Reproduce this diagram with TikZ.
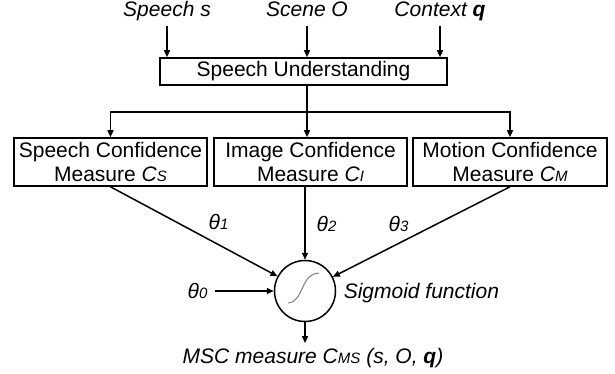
\documentclass[tikz,border=0pt]{standalone}
\usepackage{fontspec}
\setmainfont{Liberation Sans}
\usetikzlibrary{arrows.meta,calc}

% smaller letters written after a symbol (C_S, theta_1, ...)
\newcommand\lowsub[1]{{\fontsize{7.5}{9}\selectfont #1}}

\begin{document}
\begin{tikzpicture}[
    x=0.5pt, y=-0.5pt,
    font=\fontsize{10.5}{12}\selectfont,
    line width=0.75pt,
    arr/.style={-{Triangle[length=3.5pt,width=3pt]}},
    inlabel/.style={font=\fontsize{10.5}{12}\selectfont\itshape, anchor=base,
                    text depth=2.2pt, inner sep=1.8pt},
    unitbox/.style={draw, line width=0.8pt, inner sep=0pt},
    measurebox/.style={draw, line width=0.8pt, align=center,
                       minimum width=96.5pt, minimum height=24pt, inner sep=0pt},
    weight/.style={font=\fontsize{10.5}{12}\selectfont\itshape},
  ]
  \useasboundingbox (0,0) rectangle (615,374);

  % inputs
  \node[inlabel] (sp)  at (167,17) {Speech s};
  \node[inlabel] (sc)  at (307,17) {Scene O};
  \node[inlabel] (ctx) at (440,17) {Context \textbf{q}};

  % understanding block
  \node[unitbox, minimum width=143.5pt, minimum height=13.5pt] (su) at (303.5,71.5)
    {Speech Understanding};

  \draw[arr] (sp.south)  -- (sp.south |- su.north);
  \draw[arr] (sc.south)  -- (sc.south |- su.north);
  \draw[arr] (ctx.south) -- (ctx.south |- su.north);

  % confidence measures
  \node[measurebox] (b1) at (110.5,162) {Speech Confidence\\Measure \textit{C\lowsub{S}}};
  \node[measurebox] (b2) at (310.5,162) {Image Confidence\\Measure \textit{C\lowsub{I}}};
  \node[measurebox, minimum width=97pt] (b3) at (510,162) {Motion Confidence\\Measure \textit{C\lowsub{M}}};

  \coordinate (split) at (307,112);
  \draw (su.south -| split) -- (split);
  \draw[arr] (split) -| (b1.north);
  \draw[arr] (split) -- (split |- b2.north);
  \draw[arr] (split) -| (b3.north);

  % sigmoid unit
  \node[draw, circle, minimum size=30.5pt, inner sep=0pt] (c) at (305,291) {};
  \draw[gray, line width=0.5pt] (288,303) .. controls (304,302) and (300,274) .. (319,273);

  \draw[arr] (b1.south) -- (c);
  \draw[arr] (c.north |- b2.south) -- (c.north);
  \draw[arr] (b3.south) -- (c);

  % weights
  \node[weight] (t1) at (218.5,222) {θ\lowsub{1}};
  \node[weight] (t2) at (326.5,224) {θ\lowsub{2}};
  \node[weight] (t3) at (398.5,224) {θ\lowsub{3}};
  \node[weight] (t0) at (197.5,291) {θ\lowsub{0}};
  \draw[arr] (t0) -- (c);

  \node[inlabel, anchor=base west, text depth=0pt, inner sep=0pt] (sig) at (343,298) {Sigmoid function};

  % output
  \node[inlabel, text depth=0pt, inner sep=2pt] (msc) at (313,363)
    {MSC measure C\lowsub{MS} (s, O, \textbf{q})};
  \draw[arr] (c.south) -- (c.south |- msc.north);
\end{tikzpicture}
\end{document}
